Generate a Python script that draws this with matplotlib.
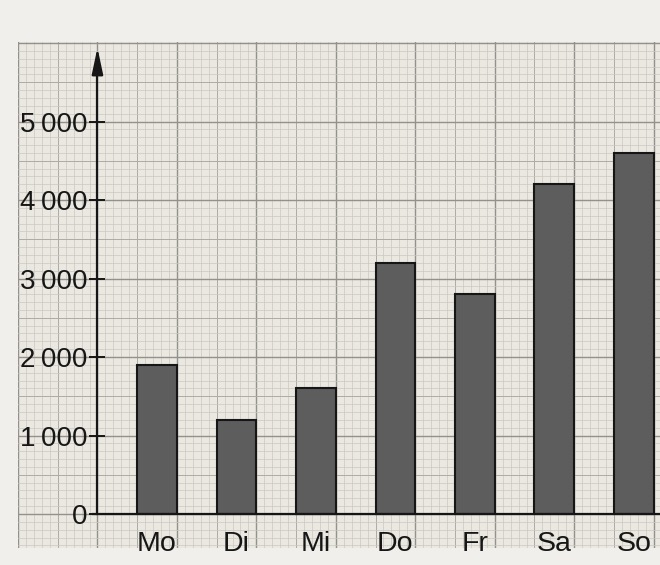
import matplotlib.pyplot as plt
import numpy as np

# Besucher pro Wochentag
days = ['Mo', 'Di', 'Mi', 'Do', 'Fr', 'Sa', 'So']
visitors = [1900, 1200, 1600, 3200, 2800, 4200, 4600]
y_ticks = [0, 1000, 2000, 3000, 4000, 5000]
y_labels = ['0', '1\u2009000', '2\u2009000', '3\u2009000', '4\u2009000', '5\u2009000']

paper = '#ebe8e1'
margin = '#f1efeb'
ink = '#161616'

plt.rcParams['font.family'] = ['Liberation Sans', 'DejaVu Sans']

fig = plt.figure(figsize=(6.6, 5.65), dpi=100, facecolor=margin)
ax = fig.add_axes([18 / 660, 17 / 565, 642 / 660, 506 / 565])
ax.set_facecolor(paper)

xmin, xmax = -1.0, 7.08
ymin, ymax = -433, 6013
ax.set_xlim(xmin, xmax)
ax.set_ylim(ymin, ymax)

# graph paper: 1 mm, 5 mm and 10 mm lines
for k in range(-10, 72):
    xv = k / 10
    if k % 10 == 0:
        ax.axvline(xv, color='#93918c', lw=1.0, zorder=0)
    elif k % 5 == 0:
        ax.axvline(xv, color='#adaba6', lw=0.7, zorder=0)
    else:
        ax.axvline(xv, color='#c9c7c1', lw=0.5, zorder=0)
for k in range(-4, 61):
    yv = k * 100
    if k % 10 == 0:
        ax.axhline(yv, color='#93918c', lw=1.0, zorder=0)
    elif k % 5 == 0:
        ax.axhline(yv, color='#adaba6', lw=0.7, zorder=0)
    else:
        ax.axhline(yv, color='#c9c7c1', lw=0.5, zorder=0)

# bars sit in the right half of each 1-unit cell
pos = np.arange(len(days)) + 0.75
ax.bar(pos, visitors, width=0.5, color='#5c5d5c', edgecolor=ink, linewidth=1.5, zorder=2)

# axes through the origin
for s in ['top', 'right']:
    ax.spines[s].set_visible(False)
ax.spines['left'].set_position(('data', 0))
ax.spines['bottom'].set_position(('data', 0))
ax.spines['left'].set_bounds(0, 5700)
ax.spines['bottom'].set_bounds(-0.06, xmax)
for s in ['left', 'bottom']:
    ax.spines[s].set_linewidth(1.6)
    ax.spines[s].set_color(ink)
    ax.spines[s].set_zorder(3)

ax.annotate('', xy=(0, 5975), xytext=(0, 5600),
            arrowprops=dict(arrowstyle='-|>,head_length=0.8,head_width=0.17',
                            mutation_scale=20, color=ink, lw=1.6))

ax.set_yticks(y_ticks, y_labels)
ax.tick_params(axis='y', direction='inout', length=12, width=1.4, color=ink,
               labelsize=20, labelcolor=ink, pad=1)
ax.set_xticks(pos, days)
ax.tick_params(axis='x', length=0, labelsize=20.5, labelcolor=ink, pad=12)

plt.savefig('out.png', dpi=100, facecolor=margin)
